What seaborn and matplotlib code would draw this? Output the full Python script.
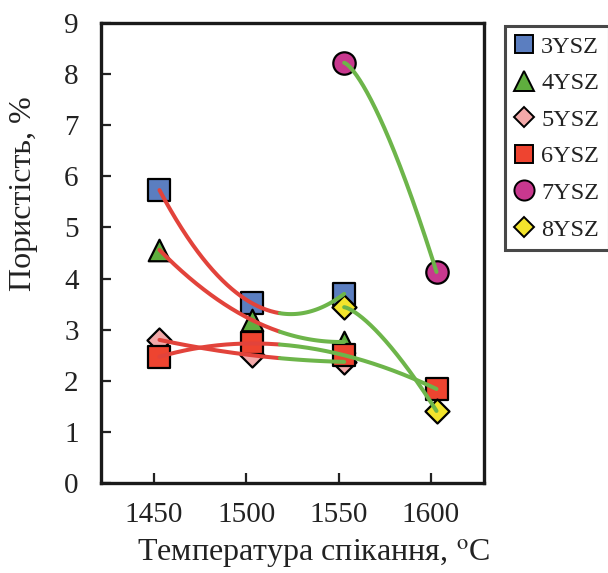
import numpy as np
import pandas as pd
import matplotlib
matplotlib.use("Agg")
import matplotlib.pyplot as plt
from matplotlib.lines import Line2D
import seaborn as sns

# Sintering temperature (°C) and porosity (%) for each composition
t_3ysz = [1453, 1503, 1553]
p_3ysz = [5.73, 3.52, 3.70]
t_4ysz = [1453, 1503, 1553]
p_4ysz = [4.56, 3.19, 2.76]
t_5ysz = [1453, 1503, 1553]
p_5ysz = [2.80, 2.50, 2.37]
t_6ysz = [1453, 1503, 1553, 1603]
p_6ysz = [2.47, 2.73, 2.50, 1.84]
t_7ysz = [1553, 1603]
p_7ysz = [8.22, 4.13]
t_8ysz = [1553, 1603]
p_8ysz = [3.44, 1.41]

series_names = ["3YSZ", "4YSZ", "5YSZ", "6YSZ", "7YSZ", "8YSZ"]
x_ticks = [1450, 1500, 1550, 1600]
y_ticks = list(range(0, 10))

temps = [t_3ysz, t_4ysz, t_5ysz, t_6ysz, t_7ysz, t_8ysz]
pors = [p_3ysz, p_4ysz, p_5ysz, p_6ysz, p_7ysz, p_8ysz]

marker_map = {"3YSZ": "s", "4YSZ": "^", "5YSZ": "D", "6YSZ": "s", "7YSZ": "o", "8YSZ": "D"}
color_map = {"3YSZ": "#5B7EC0", "4YSZ": "#5FAE3E", "5YSZ": "#F3A9A9",
             "6YSZ": "#EE4430", "7YSZ": "#C8388E", "8YSZ": "#F3E42C"}
size_map = {"3YSZ": 230, "4YSZ": 240, "5YSZ": 150, "6YSZ": 230, "7YSZ": 260, "8YSZ": 150}

RED = "#E2433B"
GREEN = "#6DB54A"
SPLIT = 1518
BEND = 1.4

sns.set_theme(style="white")
plt.rcParams["font.family"] = ["Liberation Serif", "DejaVu Serif"]
plt.rcParams["mathtext.fontset"] = "stix"

fig = plt.figure(figsize=(6.08, 5.73), dpi=100)
ax = fig.add_axes([0.166, 0.157, 0.630, 0.803])

# markers
pts = pd.DataFrame({
    "T": np.concatenate(temps),
    "P": np.concatenate(pors),
    "s": np.concatenate([[n] * len(t) for n, t in zip(series_names, temps)]),
})
for name in series_names:
    sub = pts[pts["s"] == name]
    sns.scatterplot(data=sub, x="T", y="P", marker=marker_map[name],
                    color=color_map[name], s=size_map[name], edgecolor="black",
                    linewidth=1.6, ax=ax, zorder=3, legend=False)

# smooth trend curves: polynomial through the points, or a bent
# curve between two points; red below SPLIT, green above
rows = []
for name, t, p in zip(series_names, temps, pors):
    t = np.asarray(t, float)
    p = np.asarray(p, float)
    xs = np.linspace(t[0], t[-1], 300)
    if len(t) > 2:
        coef = np.polyfit(t, p, len(t) - 1)
        ys = np.polyval(coef, xs)
    else:
        s = (xs - t[0]) / (t[-1] - t[0])
        ys = p[0] + (p[1] - p[0]) * s ** BEND
    lo = xs <= SPLIT
    if lo.any():
        i = np.where(lo)[0]
        rows.append(pd.DataFrame({"T": xs[i], "P": ys[i], "seg": name + "_r", "col": "r"}))
    hi = xs >= SPLIT
    if hi.any():
        i = np.where(hi)[0]
        rows.append(pd.DataFrame({"T": xs[i], "P": ys[i], "seg": name + "_g", "col": "g"}))
curves = pd.concat(rows, ignore_index=True)
sns.lineplot(data=curves, x="T", y="P", hue="col", units="seg", estimator=None,
             palette={"r": RED, "g": GREEN}, linewidth=2.9, sort=False,
             legend=False, ax=ax, zorder=4)

ax.set_xlim(1421.3, 1628.7)
ax.set_ylim(0, 9)
ax.set_xticks(x_ticks)
ax.set_yticks(y_ticks)
ax.tick_params(axis="both", direction="in", length=7, width=1.6, labelsize=21,
               colors="#222222", pad=16, left=True, bottom=True)
ax.tick_params(axis="x", pad=14)
for sp in ax.spines.values():
    sp.set_color("#1a1a1a")
    sp.set_linewidth(2.4)

ax.set_xlabel("Температура спікання, $^{\\mathrm{o}}$C", fontsize=23, color="#222222")
ax.set_ylabel("Пористість, %", fontsize=23, color="#222222")
ax.xaxis.set_label_coords(0.556, -0.118)
ax.yaxis.set_label_coords(-0.163, 0.628)

handles = [Line2D([], [], linestyle="none", marker=marker_map[n],
                  markerfacecolor=color_map[n], markeredgecolor="black",
                  markeredgewidth=1.4,
                  markersize={"s": 13.5, "^": 14.5, "D": 10, "o": 14.5}[marker_map[n]])
           for n in series_names]
leg = fig.legend(handles, series_names, loc="upper left",
                 bbox_to_anchor=(0.830, 0.955), frameon=True, fontsize=17.5,
                 handlelength=0.8, handletextpad=0.3, labelspacing=0.6,
                 borderpad=0.4, borderaxespad=0, fancybox=False)
leg.get_frame().set_edgecolor("#1a1a1a")
leg.get_frame().set_linewidth(2.2)
for t in leg.get_texts():
    t.set_color("#222222")

fig.savefig("out.png", dpi=100)
